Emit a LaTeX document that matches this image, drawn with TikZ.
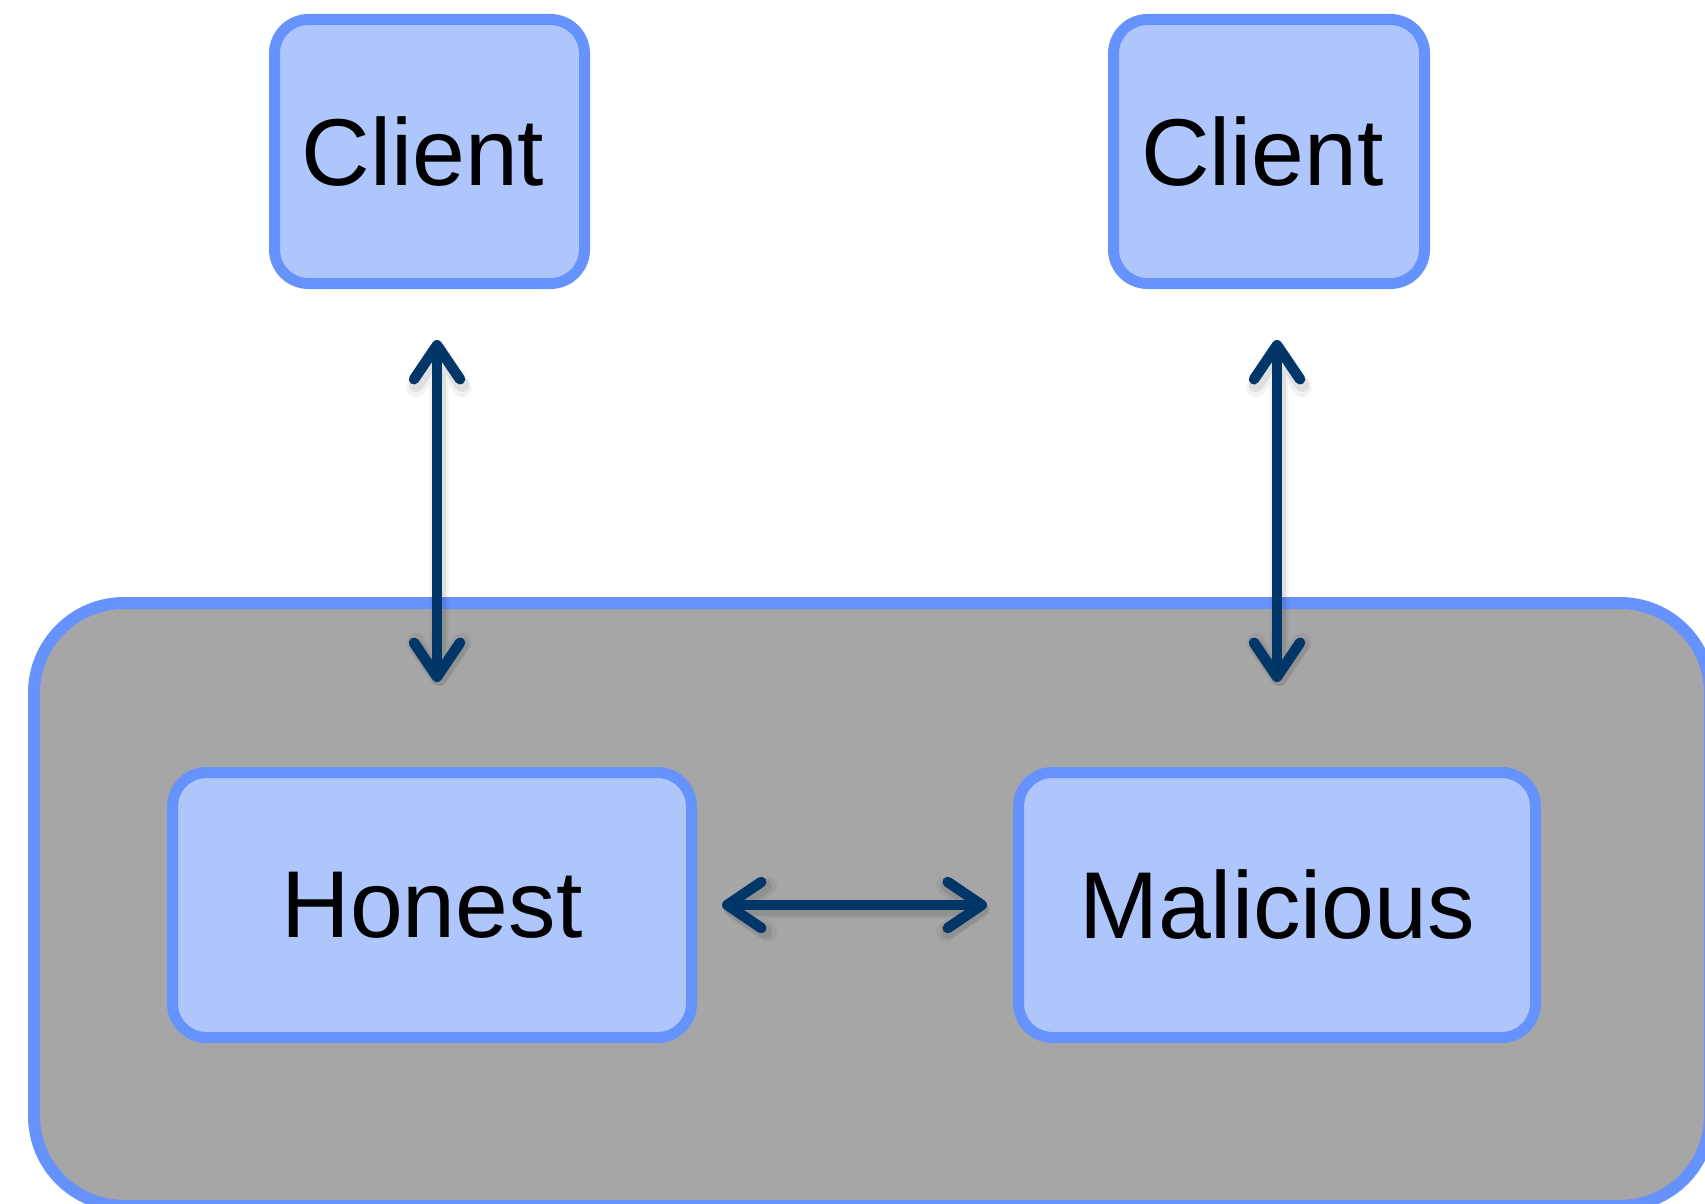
\documentclass[tikz,border=0pt]{standalone}
\usepackage{fontspec}
\setmainfont{Liberation Sans}
\usetikzlibrary{arrows.meta}

\definecolor{boxfill}{RGB}{175,198,253}
\definecolor{boxline}{RGB}{101,146,253}
\definecolor{zonefill}{RGB}{166,166,166}
\definecolor{linkcol}{RGB}{0,54,104}

\tikzset{
  party/.style={draw=boxline, fill=boxfill, line width=11pt,
    rounded corners=34pt, outer sep=0pt, inner sep=0pt,
    font=\fontsize{95}{110}\selectfont},
  zonebox/.style={draw=boxline, fill=zonefill, line width=12pt,
    rounded corners=90pt, outer sep=0pt, inner sep=0pt},
  barb/.tip={Straight Barb[length=34pt,width=46pt,round]},
  link/.style={draw=linkcol, line width=10.5pt, line cap=round, barb-barb},
  linkhaze/.style={draw=black, line cap=round, barb-barb}
}

\begin{document}
\begin{tikzpicture}[x=1pt,y=-1pt]
  \useasboundingbox (0,0) rectangle (1705,1204);
  \clip (0,0) rectangle (1705,1204);

  % shaded region holding the two servers
  \node[zonebox, minimum width=1676pt, minimum height=603pt] (zone) at (872,904.5) {};

  % parties
  \node[party, minimum width=310pt, minimum height=264pt] (c1) at (429.5,151.5) {Client\kern13pt};
  \node[party, minimum width=311pt, minimum height=264pt] (c2) at (1269,151.5) {Client\kern13pt};
  \node[party, minimum width=519pt, minimum height=265pt] (h) at (432,905) {Honest};
  \node[party, minimum width=517pt, minimum height=265pt] (m) at (1277,905) {Malicious};

  % connector end points
  \coordinate (a1) at ([xshift=7.5pt,yshift=-56.5pt]c1.south);
  \coordinate (a2) at ([xshift=5pt,yshift=90.5pt]h.north);
  \coordinate (b1) at ([xshift=8pt,yshift=-56.5pt]c2.south);
  \coordinate (b2) at ([yshift=90.5pt]m.north);
  \coordinate (d1) at ([xshift=30.5pt]h.east);
  \coordinate (d2) at ([xshift=-31.5pt]m.west);

  % soft drop shadow under the connectors
  \begin{scope}[transparency group, opacity=0.05]
    \foreach \p/\q in {a1/a2, b1/b2, d1/d2}
      \draw[linkhaze, line width=19pt]
        ([xshift=2pt,yshift=-4pt]\p) -- ([xshift=2pt,yshift=-4pt]\q);
  \end{scope}
  \begin{scope}[transparency group, opacity=0.08]
    \foreach \p/\q in {a1/a2, b1/b2, d1/d2}
      \draw[linkhaze, line width=14pt]
        ([xshift=2pt,yshift=-4pt]\p) -- ([xshift=2pt,yshift=-4pt]\q);
  \end{scope}

  % connectors
  \draw[link] (a1) -- (a2);
  \draw[link] (b1) -- (b2);
  \draw[link] (d1) -- (d2);
\end{tikzpicture}
\end{document}
